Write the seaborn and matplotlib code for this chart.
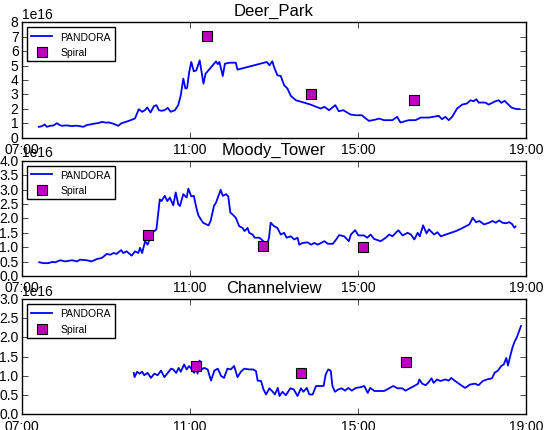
import matplotlib
matplotlib.use("Agg")
import numpy as np
import pandas as pd
import matplotlib.pyplot as plt
import matplotlib.dates as mdates
from matplotlib.ticker import MultipleLocator
import seaborn as sns

# ---- PANDORA column time series (decimal hours, units of 1e16) ----
deer_park_hours = [
    7.40, 7.47, 7.54, 7.59, 7.67, 7.75, 7.83, 7.90, 7.95, 8.05, 8.19, 8.30, 8.46, 8.54,
    8.64, 8.74, 8.82, 8.90, 9.00, 9.07, 9.18, 9.29, 9.37, 9.47, 9.57, 9.69, 9.78, 9.86,
    9.93, 9.98, 10.06, 10.14, 10.20, 10.26, 10.32, 10.39, 10.47, 10.54, 10.64, 10.72,
    10.78, 10.84, 10.89, 10.93, 10.98, 11.03, 11.09, 11.15, 11.23, 11.32, 11.37, 11.62,
    11.66, 11.70, 11.78, 11.83, 11.94, 12.09, 12.13, 12.83, 12.89, 12.96, 13.00, 13.08,
    13.16, 13.24, 13.32, 13.40, 13.52, 13.70, 13.87, 14.00, 14.11, 14.20, 14.31, 14.46,
    14.54, 14.65, 14.82, 14.95, 15.09, 15.26, 15.40, 15.50, 15.62, 15.82, 15.93, 16.01,
    16.21, 16.37, 16.49, 16.69, 16.92, 17.00, 17.08, 17.16, 17.24, 17.36, 17.48, 17.59,
    17.68, 17.75, 17.82, 17.87, 18.03, 18.11, 18.27, 18.35, 18.41, 18.49, 18.58, 18.65,
    18.75, 18.85,
]
deer_park_vals = [
    0.76, 0.80, 0.92, 0.76, 0.83, 0.85, 1.01, 0.88, 0.83, 0.86, 0.81, 0.84, 0.76, 0.88,
    0.93, 0.99, 1.02, 1.10, 1.05, 1.06, 0.97, 0.83, 1.01, 1.10, 1.20, 1.34, 1.98, 1.80,
    1.92, 2.10, 1.75, 2.19, 2.26, 1.91, 1.87, 1.91, 2.07, 1.80, 1.91, 2.26,
    2.95, 4.10, 3.41, 3.45, 4.56, 5.25, 4.60, 4.67, 5.36, 3.75, 4.44, 5.29,
    5.10, 5.25, 4.28, 5.13, 5.20, 5.20, 4.72, 5.25, 5.02, 5.30, 4.90, 4.33,
    4.28, 3.64, 3.41, 2.90, 2.60, 2.45, 2.30, 2.15, 2.03, 2.14, 1.91, 2.26,
    1.84, 1.91, 1.61, 1.56, 1.56, 1.17, 1.25, 1.33, 1.22, 1.22, 1.45, 1.06,
    1.22, 1.22, 1.40, 1.40, 1.52, 1.29, 1.45, 1.22, 1.45, 2.03, 2.30, 2.37,
    2.60, 2.53, 2.67, 2.44, 2.44, 2.30, 2.53, 2.60, 2.42, 2.56, 2.30, 2.10,
    2.00, 1.98,
]

moody_tower_hours = [
    7.41, 7.51, 7.63, 7.71, 7.79, 7.91, 8.03, 8.19, 8.31, 8.38, 8.54, 8.66, 8.78, 8.90,
    9.02, 9.10, 9.18, 9.25, 9.36, 9.41, 9.49, 9.61, 9.69, 9.77, 9.81, 9.86, 9.93, 9.99,
    10.05, 10.12, 10.20, 10.28, 10.32, 10.40, 10.46, 10.52, 10.60, 10.66, 10.72, 10.76,
    10.84, 10.92, 10.96, 11.03, 11.09, 11.15, 11.20, 11.31, 11.39, 11.44, 11.49, 11.57,
    11.62, 11.73, 11.78, 11.86, 11.91, 11.96, 12.01, 12.09, 12.17, 12.25, 12.30, 12.37,
    12.41, 12.49, 12.54, 12.65, 12.70, 12.84, 12.88, 12.92, 13.00, 13.08, 13.16, 13.24,
    13.30, 13.40, 13.48, 13.56, 13.60, 13.68, 13.80, 13.88, 13.96, 14.04, 14.20, 14.28,
    14.40, 14.48, 14.55, 14.67, 14.78, 14.83, 14.87, 14.93, 15.01, 15.14, 15.22, 15.30,
    15.38, 15.54, 15.66, 15.74, 15.82, 15.96, 16.06, 16.18, 16.26, 16.34, 16.42, 16.47,
    16.55, 16.63, 16.69, 16.81, 16.89, 16.97, 17.09, 17.21, 17.33, 17.45, 17.57, 17.65,
    17.73, 17.81, 17.89, 18.00, 18.12, 18.20, 18.28, 18.36, 18.44, 18.52, 18.60, 18.67,
    18.72, 18.75,
]
moody_tower_vals = [
    0.48, 0.45, 0.45, 0.49, 0.48, 0.55, 0.51, 0.55, 0.51, 0.57, 0.55, 0.51, 0.59, 0.63,
    0.77, 0.74, 0.80, 0.77, 0.90, 0.80, 0.86, 0.71, 0.86, 0.80, 0.98, 0.80, 1.21, 1.09,
    1.33, 1.52, 1.62, 2.66, 2.60, 2.78, 2.60, 2.72, 2.45, 2.90, 2.49, 2.43,
    2.84, 2.72, 3.03, 2.76, 2.78, 2.37, 2.10, 1.85, 1.79, 1.76, 1.91, 2.43,
    2.55, 2.99, 2.78, 2.84, 2.76, 2.20, 2.14, 2.02, 1.73, 1.67, 1.56, 1.67,
    1.50, 1.44, 1.33, 1.33, 1.27, 1.09, 1.33, 1.85, 1.73, 1.67, 1.44, 1.50,
    1.33, 1.38, 1.27, 1.33, 1.09, 1.15, 1.17, 1.09, 1.15, 1.09, 1.21, 1.12,
    1.12, 1.27, 1.42, 1.38, 1.21, 1.44, 1.50, 1.59, 1.41, 1.41, 1.33, 1.44,
    1.29, 1.21, 1.33, 1.44, 1.38, 1.59, 1.41, 1.50, 1.44, 1.27, 1.50, 1.38,
    1.76, 1.48, 1.62, 1.44, 1.52, 1.38, 1.44, 1.50, 1.56, 1.64, 1.73, 1.79,
    2.02, 1.87, 1.91, 1.79, 1.85, 1.91, 1.85, 1.93, 1.85, 1.83, 1.87, 1.80,
    1.68, 1.72,
]

channelview_hours = [
    9.66, 9.68, 9.74, 9.80, 9.86, 9.91, 9.99, 10.07, 10.15, 10.23, 10.31, 10.39, 10.47,
    10.55, 10.60, 10.67, 10.73, 10.78, 10.86, 10.92, 10.98, 11.04, 11.10, 11.14, 11.18,
    11.23, 11.28, 11.34, 11.42, 11.50, 11.58, 11.66, 11.74, 11.81, 11.89, 11.97, 12.05,
    12.13, 12.21, 12.29, 12.41, 12.50, 12.57, 12.61, 12.69, 12.75, 12.81, 12.89, 12.97,
    13.02, 13.09, 13.13, 13.20, 13.28, 13.39, 13.47, 13.56, 13.64, 13.70, 13.78, 13.84,
    13.92, 14.00, 14.11, 14.18, 14.23, 14.29, 14.35, 14.39, 14.45, 14.53, 14.61, 14.69,
    14.77, 14.85, 14.95, 15.07, 15.15, 15.23, 15.29, 15.39, 15.51, 15.62, 15.74, 15.84,
    15.94, 16.05, 16.13, 16.25, 16.37, 16.43, 16.46, 16.53, 16.61, 16.69, 16.75, 16.80,
    16.88, 16.96, 17.08, 17.16, 17.22, 17.30, 17.40, 17.55, 17.67, 17.79, 17.87, 17.97,
    18.07, 18.19, 18.25, 18.33, 18.41, 18.47, 18.53, 18.57, 18.62, 18.68, 18.73, 18.78,
    18.83, 18.88,
]
channelview_vals = [
    1.08, 0.97, 1.11, 1.06, 1.11, 1.02, 1.08, 0.95, 1.06, 1.02, 1.14, 0.97, 1.08,
    1.19, 1.17, 1.08, 1.21, 1.11, 1.30, 1.17, 1.26, 1.17, 1.08, 1.21, 1.06,
    1.40, 1.17, 1.21, 1.17, 0.88, 1.14, 1.19, 1.00, 0.95, 1.19, 1.17, 1.26,
    0.97, 1.11, 1.19, 1.17, 1.17, 1.13, 0.88, 0.87, 0.65, 0.52, 0.68, 0.59,
    0.52, 0.69, 0.48, 0.59, 0.50, 0.68, 0.65, 0.48, 0.68, 0.59, 0.69, 0.52,
    0.52, 0.74, 0.74, 0.74, 1.04, 1.17, 1.14, 0.74, 0.59, 0.65, 0.68, 0.62,
    0.69, 0.62, 0.69, 0.71, 0.74, 0.56, 0.69, 0.61, 0.61, 0.61, 0.68, 0.74,
    0.68, 0.68, 0.62, 0.69, 0.76, 0.80, 0.91, 0.80, 0.76, 0.85, 0.94, 0.82,
    0.91, 0.87, 0.91, 0.88, 0.95, 0.88, 0.80, 0.69, 0.78, 0.80, 0.76, 0.87,
    0.91, 0.94, 1.08, 1.14, 1.26, 1.30, 1.47, 1.27, 1.50, 1.75, 1.90, 2.00,
    2.15, 2.30,
]

# ---- Aircraft spiral columns (decimal hours, units of 1e16) ----
deer_park_spiral_hours = [11.40, 13.88, 16.34]
deer_park_spiral_vals = [7.05, 3.05, 2.60]
moody_tower_spiral_hours = [10.00, 12.74, 15.13]
moody_tower_spiral_vals = [1.42, 1.03, 1.00]
channelview_spiral_hours = [11.15, 13.65, 16.15]
channelview_spiral_vals = [1.26, 1.07, 1.37]

site_names = ["Deer_Park", "Moody_Tower", "Channelview"]
y_max = [8.0, 4.0, 3.0]
y_step = [1.0, 0.5, 0.5]

SCALE = 1e16
DAY = pd.Timestamp("2013-09-25")


def to_time(hours):
    return DAY + pd.to_timedelta(np.asarray(hours), unit="h")


plt.style.use("classic")
plt.rcParams.update({
    "figure.facecolor": "white",
    "savefig.facecolor": "white",
    "font.family": ["Liberation Sans", "DejaVu Sans"],
    "font.size": 10,
    "axes.titlesize": 12,
    "legend.fontsize": 7.5,
    "ytick.major.pad": 2.5,
    "xtick.major.pad": 3,
})

fig = plt.figure(figsize=(5.45, 4.31), dpi=100)
left, width, height = 0.0404, 0.9248, 0.268
bottoms = [0.678, 0.357, 0.036]

series = [
    (deer_park_hours, deer_park_vals, deer_park_spiral_hours, deer_park_spiral_vals),
    (moody_tower_hours, moody_tower_vals, moody_tower_spiral_hours, moody_tower_spiral_vals),
    (channelview_hours, channelview_vals, channelview_spiral_hours, channelview_spiral_vals),
]

for i, (hrs, vals, sh, sv) in enumerate(series):
    ax = fig.add_axes([left, bottoms[i], width, height])
    sns.lineplot(x=to_time(hrs), y=np.asarray(vals) * SCALE, ax=ax,
                 color="b", linewidth=1.3, label="PANDORA")
    sns.scatterplot(x=to_time(sh), y=np.asarray(sv) * SCALE, ax=ax,
                    marker="s", s=42, color="m", edgecolor="k", linewidth=0.8,
                    label="Spiral", zorder=3)
    ax.set_xlim(DAY + pd.Timedelta(hours=7), DAY + pd.Timedelta(hours=19))
    ax.set_ylim(0, y_max[i] * SCALE)
    ax.yaxis.set_major_locator(MultipleLocator(y_step[i] * SCALE))
    ax.xaxis.set_major_locator(mdates.HourLocator(byhour=[7, 11, 15, 19]))
    ax.xaxis.set_major_formatter(mdates.DateFormatter("%H:%M"))
    ax.set_xlabel("")
    ax.set_ylabel("")
    ax.set_title(site_names[i])
    ax.legend(loc="upper left", numpoints=1, scatterpoints=1)

fig.savefig("out.png", dpi=100)
